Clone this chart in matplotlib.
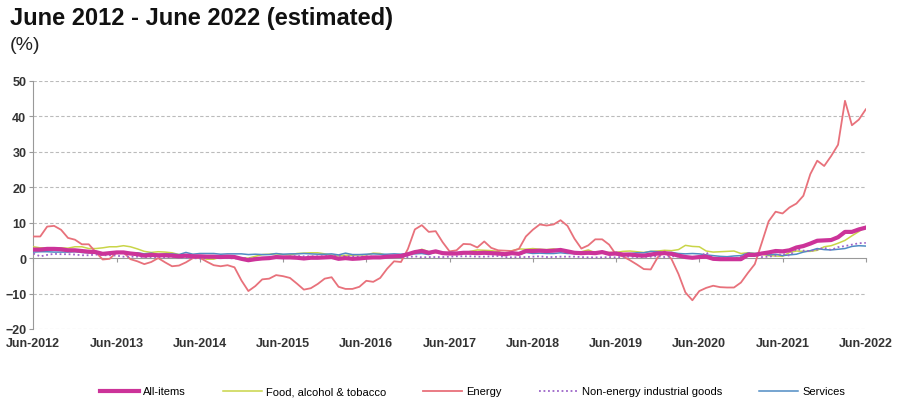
import matplotlib
matplotlib.use("Agg")
import matplotlib.pyplot as plt
import numpy as np

plt.rcParams["font.family"] = ["Liberation Sans", "DejaVu Sans"]

# ── data: annual rates of change, monthly, Jun-2012 .. Jun-2022 ───────────────
all_items = [
    2.4, 2.4, 2.6, 2.6, 2.5, 2.2, 2.2,
    2.0, 1.8, 1.7, 1.2, 1.4, 1.6, 1.6, 1.3, 1.1, 0.7, 0.9, 0.8,
    0.8, 0.7, 0.5, 0.7, 0.5, 0.5, 0.4, 0.4, 0.3, 0.4, 0.3, -0.2,
    -0.6, -0.3, -0.1, 0.0, 0.3, 0.2, 0.2, 0.1, -0.1, 0.1, 0.1, 0.2,
    0.3, -0.2, 0.0, -0.2, -0.1, 0.1, 0.2, 0.2, 0.4, 0.5, 0.6, 1.1,
    1.7, 2.0, 1.5, 1.9, 1.4, 1.3, 1.3, 1.5, 1.5, 1.4, 1.5, 1.4,
    1.3, 1.1, 1.4, 1.2, 2.0, 2.0, 2.1, 2.0, 2.1, 2.3, 1.9, 1.5,
    1.4, 1.5, 1.4, 1.7, 1.2, 1.3, 1.0, 1.0, 0.8, 0.7, 1.0, 1.3,
    1.4, 1.2, 0.7, 0.3, 0.1, 0.3, 0.4, -0.2, -0.3, -0.3, -0.3, -0.3,
    0.9, 0.9, 1.3, 1.6, 2.0, 1.9, 2.2, 3.0, 3.4, 4.1, 4.9, 5.0,
    5.1, 5.9, 7.4, 7.4, 8.1, 8.6,
]
food = [
    3.2, 2.9, 2.9, 2.9, 2.9, 2.8, 3.2,
    3.2, 2.7, 2.7, 2.9, 3.2, 3.2, 3.5, 3.2, 2.6, 1.9, 1.6, 1.8,
    1.7, 1.5, 1.0, 0.7, 0.1, 0.2, -0.3, -0.3, 0.3, 0.5, 0.5, 0.0,
    0.0, 0.5, 1.0, 1.1, 1.2, 1.0, 0.9, 1.3, 1.4, 1.5, 1.5, 1.2,
    0.8, 0.6, 0.8, 0.8, 0.9, 0.9, 1.4, 1.3, 0.7, 0.5, 0.7, 1.2,
    1.7, 2.5, 1.8, 1.5, 1.5, 1.4, 1.4, 1.4, 1.9, 2.3, 2.2, 2.1,
    1.9, 1.0, 2.1, 2.6, 2.5, 2.7, 2.5, 2.4, 2.6, 2.2, 1.9, 1.6,
    1.8, 2.3, 1.5, 1.5, 1.6, 1.6, 1.9, 2.0, 1.8, 1.6, 1.9, 2.0,
    2.2, 2.1, 2.4, 3.6, 3.3, 3.2, 2.0, 1.7, 1.8, 1.9, 2.0, 1.3,
    1.5, 1.3, 1.1, 0.7, 0.6, 0.5, 1.6, 2.0, 1.9, 1.9, 2.2, 3.2,
    3.5, 4.2, 5.0, 6.3, 7.5, 8.9,
]
energy = [
    6.1, 6.1, 8.9, 9.1, 8.0, 5.7, 5.2,
    3.9, 3.9, 1.7, -0.4, -0.2, 1.6, 1.6, -0.3, -0.9, -1.7, -1.1, 0.0,
    -1.2, -2.3, -2.1, -1.2, 0.0, 0.1, -1.0, -2.0, -2.3, -2.0, -2.6, -6.3,
    -9.3, -7.9, -6.0, -5.8, -4.8, -5.1, -5.6, -7.2, -8.9, -8.5, -7.3, -5.8,
    -5.4, -8.1, -8.7, -8.7, -8.1, -6.4, -6.7, -5.6, -3.0, -0.9, -1.1, 2.6,
    8.1, 9.3, 7.4, 7.6, 4.5, 1.9, 2.2, 4.0, 3.9, 3.0, 4.7, 2.9,
    2.2, 2.1, 2.0, 2.6, 6.1, 8.0, 9.5, 9.2, 9.5, 10.7, 9.1, 5.5,
    2.7, 3.6, 5.3, 5.3, 3.8, 1.0, 0.5, -0.6, -1.8, -3.1, -3.2, 0.2,
    1.9, -0.3, -4.5, -9.7, -11.9, -9.3, -8.4, -7.8, -8.2, -8.3, -8.3, -6.9,
    -4.2, -1.7, 4.3, 10.4, 13.1, 12.6, 14.3, 15.4, 17.6, 23.7, 27.5, 26.0,
    28.8, 32.0, 44.4, 37.5, 39.1, 42.0,
]
non_energy = [
    1.3, 0.5, 0.9, 1.2, 1.1, 1.1, 1.0,
    0.8, 0.8, 1.0, 0.8, 0.8, 0.7, 0.4, 0.4, 0.4, 0.3, 0.3, 0.3,
    0.2, 0.4, 0.2, 0.1, 0.0, -0.1, 0.0, 0.3, 0.2, 0.0, -0.1, 0.0,
    -0.1, 0.0, -0.1, 0.1, 0.2, 0.3, 0.4, 0.6, 0.5, 0.5, 0.5, 0.5,
    0.7, 0.7, 0.5, 0.5, 0.4, 0.5, 0.4, 0.3, 0.3, 0.3, 0.3, 0.3,
    0.5, 0.2, 0.3, 0.3, 0.3, 0.4, 0.5, 0.5, 0.5, 0.4, 0.4, 0.5,
    0.6, 0.3, 0.2, 0.3, 0.3, 0.4, 0.5, 0.3, 0.3, 0.4, 0.4, 0.4,
    0.3, 0.2, 0.2, 0.2, 0.3, 0.2, 0.4, 0.4, 0.3, 0.3, 0.4, 0.5,
    0.3, 0.5, 0.5, 0.3, 0.2, 0.2, 1.6, -0.1, -0.1, -0.1, -0.3, 0.5,
    1.5, 1.0, 0.3, 0.4, 0.7, 1.2, 0.7, 2.6, 2.1, 2.0, 2.4, 2.9,
    2.3, 3.1, 3.4, 3.8, 4.2, 4.3,
]
services = [
    1.7, 1.8, 1.8, 1.7, 1.7, 1.7, 1.8,
    1.6, 1.5, 1.8, 1.1, 1.5, 1.4, 1.4, 1.4, 1.5, 1.2, 1.4, 1.0,
    1.2, 1.2, 1.0, 1.6, 1.1, 1.3, 1.3, 1.3, 1.1, 1.2, 1.2, 1.2,
    1.0, 1.1, 1.0, 1.0, 1.3, 1.1, 1.2, 1.2, 1.3, 1.2, 1.1, 1.1,
    1.2, 0.9, 1.4, 1.0, 1.0, 1.1, 1.2, 1.1, 1.1, 1.2, 1.1, 1.3,
    1.2, 1.3, 1.0, 1.8, 1.3, 1.6, 1.5, 1.6, 1.5, 1.2, 1.5, 1.3,
    1.2, 1.3, 1.5, 1.0, 1.6, 1.3, 1.4, 1.3, 1.3, 1.5, 1.3, 1.3,
    1.2, 1.4, 1.3, 1.9, 1.0, 1.6, 1.2, 1.3, 1.5, 1.5, 1.9, 1.8,
    1.5, 1.6, 1.3, 1.2, 1.3, 1.2, 0.9, 0.7, 0.5, 0.4, 0.6, 0.7,
    1.4, 1.3, 1.3, 0.9, 1.1, 0.7, 0.9, 1.1, 1.7, 2.1, 2.7, 2.4,
    2.3, 2.5, 2.7, 3.3, 3.5, 3.4,
]
tick_labels = ["Jun-2012", "Jun-2013", "Jun-2014", "Jun-2015", "Jun-2016", "Jun-2017",
               "Jun-2018", "Jun-2019", "Jun-2020", "Jun-2021", "Jun-2022"]

months = np.arange(len(all_items))

# ── figure ────────────────────────────────────────────────────────────────────
fig = plt.figure(figsize=(9, 4.14), dpi=100)
ax = fig.add_axes([0.037, 0.203, 0.925, 0.599])

ax.plot(months, food, color="#C9D548", lw=1.1, label="Food, alcohol & tobacco", zorder=3)
ax.plot(months, energy, color="#E8717B", lw=1.3, label="Energy", zorder=3)
ax.plot(months, non_energy, color="#9C64C8", lw=1.3, ls=(0, (1, 1.5)),
        label="Non-energy industrial goods", zorder=4)
ax.plot(months, services, color="#4F8CC4", lw=1.1, label="Services", zorder=3)
ax.plot(months, all_items, color="#CC3399", lw=3, label="All-items", zorder=5)

ax.set_xlim(0, 120)
ax.set_ylim(-20, 50)
ax.set_yticks(range(-20, 51, 10))
for y in range(-20, 51, 10):
    if y != 0:
        ax.axhline(y, color="#BBBBBB", lw=0.8, ls=(0, (3, 2)), zorder=1)

# x axis sits on the zero line, labels go at the bottom
for s in ["top", "right"]:
    ax.spines[s].set_visible(False)
ax.spines["bottom"].set_position(("data", 0))
ax.spines["bottom"].set_color("#999999")
ax.spines["left"].set_color("#999999")
ax.set_xticks(range(0, 121, 12))
ax.tick_params(axis="x", length=3, color="#999999", labelbottom=False, direction="out")
ax.tick_params(axis="y", length=3, color="#999999", labelsize=9, labelcolor="#333333", pad=2)
for lab in ax.get_yticklabels():
    lab.set_fontweight("bold")

sec = ax.secondary_xaxis(0)
sec.set_xticks(range(0, 121, 12))
sec.set_xticklabels(tick_labels, fontsize=9, fontweight="bold", color="#333333")
sec.tick_params(length=0, pad=6)
sec.spines["bottom"].set_visible(False)

fig.text(0.011, 0.955, "June 2012 - June 2022 (estimated)", fontsize=17,
         fontweight="bold", color="#111111", va="center")
fig.text(0.011, 0.89, "(%)", fontsize=14, color="#222222", va="center")

handles, labels = ax.get_legend_handles_labels()
order = [4, 0, 1, 2, 3]
fig.legend([handles[i] for i in order], [labels[i] for i in order],
           loc="center", bbox_to_anchor=(0.525, 0.052), ncol=5, frameon=False,
           fontsize=8, handlelength=3.5, columnspacing=3.3, handletextpad=0.4)

fig.savefig("out.png", dpi=100)
